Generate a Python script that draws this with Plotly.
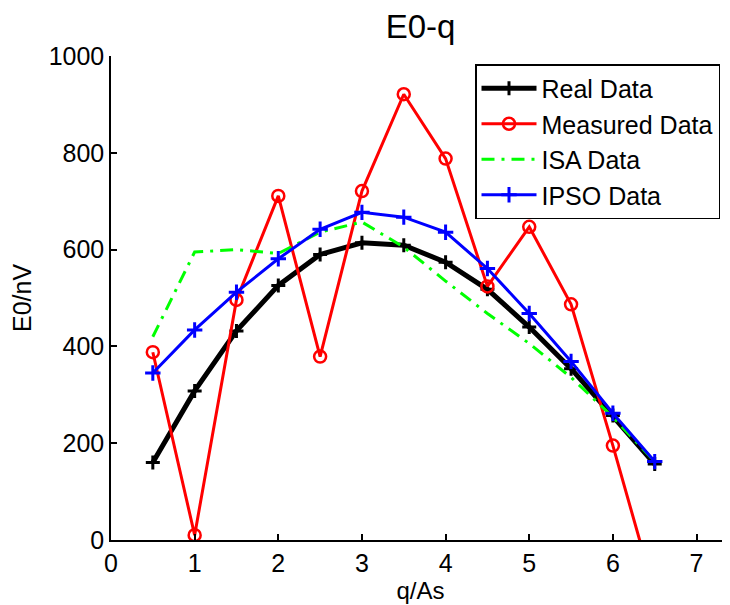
import plotly.graph_objects as go

q = [0.5, 1.0, 1.5, 2.0, 2.5, 3.0, 3.5, 4.0, 4.5, 5.0, 5.5, 6.0, 6.5]
real_data = [160, 308, 432, 526, 590, 614, 609, 574, 518, 440, 354, 257, 157]
measured_data = [388, 10, 496, 711, 379, 721, 921, 788, 524, 647, 487, 195, -110]
isa_data = [420, 595, 600, 592, 636, 657, 605, 535, 468, 406, 336, 254, 162]
ipso_data = [345, 434, 512, 581, 642, 677, 667, 636, 561, 468, 369, 262, 162]
x_ticks = [0, 1, 2, 3, 4, 5, 6, 7]
y_ticks = [0, 200, 400, 600, 800, 1000]

FONT = "Liberation Sans, Arial, sans-serif"

W, H = 722, 597  # page body has an 8px margin
ML, MT, MR, MB = 103, 48, 0, 65

fig = go.Figure()
fig.add_trace(go.Scatter(
    x=q, y=real_data, name="Real Data", mode="lines+markers",
    line=dict(color="black", width=5),
    marker=dict(symbol="cross-thin-open", size=10, line=dict(color="black", width=3)),
))
fig.add_trace(go.Scatter(
    x=q, y=measured_data, name="Measured Data", mode="lines+markers",
    line=dict(color="#ff0000", width=3),
    marker=dict(symbol="circle-open", size=12, color="#ff0000", line=dict(color="#ff0000", width=2.5)),
))
fig.add_trace(go.Scatter(
    x=q, y=isa_data, name="ISA Data", mode="lines",
    line=dict(color="#00ff00", width=3, dash="13px,7px,3px,7px"),
))
fig.add_trace(go.Scatter(
    x=q, y=ipso_data, name="IPSO Data", mode="lines+markers",
    line=dict(color="#0000ff", width=3),
    marker=dict(symbol="cross-thin-open", size=11, line=dict(color="#0000ff", width=3)),
))

plot_w = W - ML - MR
plot_h = H - MT - MB

fig.update_layout(
    width=W, height=H,
    margin=dict(l=ML, r=MR, t=MT, b=MB, pad=0, autoexpand=False),
    paper_bgcolor="white", plot_bgcolor="white",
    font=dict(family=FONT, color="black", size=24),
    title=dict(text="E0-q", x=0.5, xref="paper", xanchor="center",
               y=1 - 18 / H, yref="container", yanchor="middle",
               font=dict(size=33, family=FONT, color="black")),
    showlegend=True,
    legend=dict(x=(467 - ML) / plot_w, xanchor="left", y=(plot_h - 8) / plot_h, yanchor="top",
                bordercolor="black", borderwidth=1.5, bgcolor="white",
                font=dict(size=25, family=FONT, color="black"),
                tracegroupgap=0, itemwidth=55),
    xaxis=dict(range=[0, 7.4], tickvals=x_ticks, ticks="inside", ticklen=6, tickwidth=1.5,
               tickcolor="black", showline=True, linecolor="black", linewidth=1.5,
               showgrid=False, zeroline=False, tickfont=dict(size=25), automargin=False,
               title=dict(text="q/As", font=dict(size=24), standoff=4)),
    yaxis=dict(range=[0, 1000], tickvals=y_ticks, ticks="inside", ticklen=6, tickwidth=1.5,
               tickcolor="black", showline=True, linecolor="black", linewidth=1.5,
               showgrid=False, zeroline=False, tickfont=dict(size=25), automargin=False,
               title=dict(text="E0/nV", font=dict(size=25), standoff=14)),
)

fig.write_html("out.html")
